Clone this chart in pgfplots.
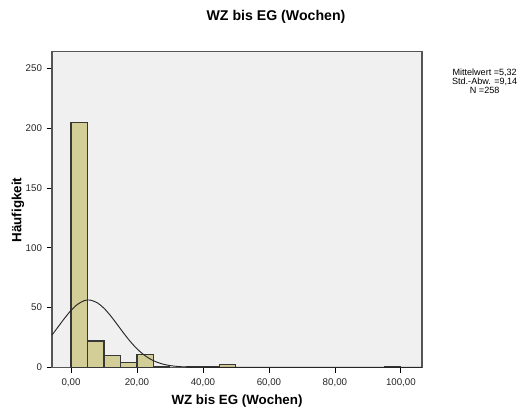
\documentclass[border=0pt]{standalone}
\usepackage{pgfplots}
\pgfplotsset{compat=1.18}
\usepackage{fontspec}
\setmainfont{Liberation Sans}
\definecolor{barfill}{RGB}{211,206,151}
\definecolor{bargrid}{RGB}{55,55,55}
\definecolor{plotbg}{RGB}{240,240,240}
\definecolor{framec}{RGB}{85,85,85}
\begin{document}
\begin{tikzpicture}
\path[use as bounding box] (-39pt,275.5pt) rectangle (355.5pt,-36.5pt);
\begin{axis}[
  scale only axis,
  width=277.5pt, height=236.7pt,
  at={(0pt,0pt)}, anchor=south west,
  xmin=-5.76, xmax=106.4, ymin=0, ymax=263.9,
  axis background/.style={fill=plotbg},
  axis line style={framec, line width=0.8pt},
  tick align=outside, xtick pos=bottom, ytick pos=left,
  major tick length=4pt,
  tick style={black, line width=0.6pt},
  xtick={0,20,40,60,80,100},
  xticklabels={{0,00},{20,00},{40,00},{60,00},{80,00},{100,00}},
  ytick={0,50,100,150,200,250},
  yticklabels={0,50,100,150,200,250},
  ticklabel style={font=\fontsize{7.3}{8}\selectfont, text=black!85},
  xticklabel style={yshift=-1pt},
  clip=false,
]
\addplot[ybar interval, fill=barfill, draw=bargrid, line width=0.8pt]
  coordinates {(0,205) (5,22) (10,10) (15,4) (20,11) (25,1) (30,1)};
\addplot[ybar interval, fill=barfill, draw=bargrid, line width=0.8pt]
  coordinates {(35,1) (40,1) (45,2) (50,2)};
\addplot[ybar interval, fill=barfill, draw=bargrid, line width=0.8pt]
  coordinates {(95,1) (100,1)};
\addplot[smooth, black!85, line width=0.7pt] coordinates {
(-5.76,27.0) (-4,33.48) (-2,40.86) (0,47.54) (2,52.72) (4,55.73) (5.32,56.31)
(6,56.15) (8,53.94) (10,49.39) (12,43.11) (14,35.87) (16,28.45) (18,21.51)
(20,15.50) (22,10.65) (24,6.98) (26,4.35) (28,2.59) (30,1.47) (32,0.80)
(34,0.41) (36,0.20) (38,0.09) (40,0.04) (45,0.0) (60,0) (80,0) (106.4,0)};
\end{axis}
\node[font=\bfseries\fontsize{10.6}{12}\selectfont] at (168pt,263.1pt) {WZ bis EG (Wochen)};
\node[font=\bfseries\fontsize{10}{12}\selectfont] at (138.75pt,-25pt) {WZ bis EG (Wochen)};
\node[font=\bfseries\fontsize{10}{12}\selectfont, rotate=90] at (-25.5pt,118pt) {Häufigkeit};
\node[font=\fontsize{6.8}{4.5}\selectfont, align=center, inner sep=0pt] at (324.5pt,214.5pt)
  {Mittelwert =5,32\\Std.-Abw. =9,14\\N =258};
\end{tikzpicture}
\end{document}
